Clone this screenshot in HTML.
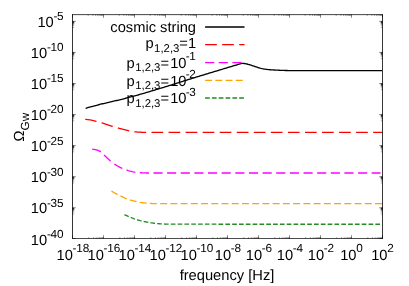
<!DOCTYPE html>
<html>
<head>
<meta charset="utf-8">
<title>Omega_GW vs frequency</title>
<style>
html,body{margin:0;padding:0;background:#ffffff;}
body{width:409px;height:286px;overflow:hidden;font-family:"Liberation Sans",sans-serif;}
svg{display:block;will-change:transform;opacity:0.999;text-rendering:geometricPrecision;}
</style>
</head>
<body>
<svg width="409" height="286" viewBox="0 0 409 286">
<rect x="0" y="0" width="409" height="286" fill="#ffffff"/>
<path d="M85.60,108.30 L86.60,108.01 L87.61,107.73 L88.61,107.45 L89.61,107.17 L90.62,106.89 L91.62,106.61 L92.62,106.34 L93.62,106.07 L94.63,105.80 L95.63,105.53 L96.63,105.27 L97.64,105.01 L98.64,104.75 L99.64,104.49 L100.65,104.24 L101.65,103.99 L102.65,103.75 L103.65,103.51 L104.66,103.27 L105.66,103.03 L106.66,102.80 L107.67,102.57 L108.67,102.34 L109.67,102.12 L110.68,101.89 L111.68,101.66 L112.68,101.43 L113.69,101.20 L114.69,100.97 L115.69,100.74 L116.69,100.50 L117.70,100.26 L118.70,100.02 L119.70,99.77 L120.71,99.52 L121.71,99.27 L122.71,99.02 L123.72,98.76 L124.72,98.51 L125.72,98.25 L126.72,97.99 L127.73,97.73 L128.73,97.46 L129.73,97.20 L130.74,96.93 L131.74,96.66 L132.74,96.39 L133.75,96.12 L134.75,95.85 L135.75,95.58 L136.76,95.30 L137.76,95.02 L138.76,94.75 L139.76,94.47 L140.77,94.18 L141.77,93.90 L142.77,93.61 L143.78,93.32 L144.78,93.03 L145.78,92.74 L146.79,92.44 L147.79,92.15 L148.79,91.85 L149.79,91.55 L150.80,91.24 L151.80,90.94 L152.80,90.64 L153.81,90.33 L154.81,90.03 L155.81,89.72 L156.82,89.42 L157.82,89.11 L158.82,88.81 L159.82,88.50 L160.83,88.20 L161.83,87.89 L162.83,87.58 L163.84,87.27 L164.84,86.97 L165.84,86.65 L166.85,86.34 L167.85,86.03 L168.85,85.72 L169.86,85.40 L170.86,85.09 L171.86,84.78 L172.86,84.46 L173.87,84.14 L174.87,83.83 L175.87,83.51 L176.88,83.20 L177.88,82.88 L178.88,82.56 L179.89,82.25 L180.89,81.93 L181.89,81.61 L182.89,81.29 L183.90,80.98 L184.90,80.66 L185.90,80.35 L186.91,80.03 L187.91,79.72 L188.91,79.40 L189.92,79.09 L190.92,78.77 L191.92,78.46 L192.93,78.15 L193.93,77.84 L194.93,77.53 L195.93,77.22 L196.94,76.91 L197.94,76.60 L198.94,76.30 L199.95,75.99 L200.95,75.68 L201.95,75.38 L202.96,75.07 L203.96,74.76 L204.96,74.46 L205.96,74.15 L206.97,73.85 L207.97,73.55 L208.97,73.24 L209.98,72.94 L210.98,72.63 L211.98,72.33 L212.99,72.03 L213.99,71.72 L214.99,71.42 L216.00,71.12 L217.00,70.82 L218.00,70.51 L219.00,70.21 L220.01,69.91 L221.01,69.61 L222.01,69.30 L223.02,69.00 L224.02,68.70 L225.02,68.40 L226.03,68.10 L227.03,67.79 L228.03,67.49 L229.03,67.19 L230.04,66.89 L231.04,66.59 L232.04,66.29 L233.05,65.99 L234.05,65.68 L235.05,65.38 L236.06,65.09 L237.06,64.79 L238.06,64.48 L239.07,64.15 L240.07,63.83 L241.07,63.52 L242.07,63.42 L243.08,63.40 L244.08,63.48 L245.08,63.61 L246.09,63.78 L247.09,64.00 L248.09,64.26 L249.10,64.57 L250.10,64.90 L251.10,65.23 L252.10,65.55 L253.11,65.88 L254.11,66.21 L255.11,66.54 L256.12,66.87 L257.12,67.20 L258.12,67.52 L259.13,67.82 L260.13,68.12 L261.13,68.39 L262.14,68.63 L263.14,68.83 L264.14,69.02 L265.14,69.18 L266.15,69.33 L267.15,69.46 L268.15,69.59 L269.16,69.69 L270.16,69.77 L271.16,69.84 L272.17,69.90 L273.17,69.96 L274.17,70.02 L275.17,70.07 L276.18,70.12 L277.18,70.17 L278.18,70.22 L279.19,70.27 L280.19,70.32 L281.19,70.36 L282.20,70.40 L283.20,70.43 L284.20,70.45 L285.21,70.48 L286.21,70.50 L287.21,70.52 L288.21,70.53 L289.22,70.55 L290.22,70.57 L291.22,70.58 L292.23,70.60 L293.23,70.61 L294.23,70.62 L295.24,70.63 L296.24,70.64 L297.24,70.64 L298.24,70.65 L299.25,70.65 L300.25,70.65 L301.25,70.65 L302.26,70.66 L303.26,70.66 L304.26,70.66 L305.27,70.66 L306.27,70.66 L307.27,70.67 L308.27,70.67 L309.28,70.67 L310.28,70.67 L311.28,70.67 L312.29,70.67 L313.29,70.68 L314.29,70.68 L315.30,70.68 L316.30,70.68 L317.30,70.68 L318.31,70.68 L319.31,70.68 L320.31,70.69 L321.31,70.69 L322.32,70.69 L323.32,70.69 L324.32,70.69 L325.33,70.69 L326.33,70.69 L327.33,70.69 L328.34,70.69 L329.34,70.70 L330.34,70.70 L331.34,70.70 L332.35,70.70 L333.35,70.70 L334.35,70.70 L335.36,70.70 L336.36,70.70 L337.36,70.70 L338.37,70.70 L339.37,70.70 L340.37,70.71 L341.38,70.71 L342.38,70.71 L343.38,70.71 L344.38,70.71 L345.39,70.71 L346.39,70.71 L347.39,70.71 L348.40,70.71 L349.40,70.71 L350.40,70.71 L351.41,70.71 L352.41,70.71 L353.41,70.71 L354.41,70.71 L355.42,70.71 L356.42,70.71 L357.42,70.72 L358.43,70.72 L359.43,70.72 L360.43,70.72 L361.44,70.72 L362.44,70.72 L363.44,70.72 L364.45,70.72 L365.45,70.72 L366.45,70.72 L367.45,70.72 L368.46,70.72 L369.46,70.72 L370.46,70.72 L371.47,70.72 L372.47,70.72 L373.47,70.72 L374.48,70.72 L375.48,70.72 L376.48,70.72 L377.48,70.72 L378.49,70.72 L379.49,70.72 L380.49,70.72 L381.50,70.72 L382.50,70.72" fill="none" stroke="#000" stroke-width="1.30" stroke-linejoin="round"/>
<path d="M85.30,119.40 L86.30,119.47 L87.30,119.56 L88.30,119.68 L89.30,119.80 L90.30,119.94 L91.30,120.12 L92.30,120.32 L93.31,120.55 L94.31,120.80 L95.31,121.05 L96.31,121.30 L97.31,121.55 L98.31,121.82 L99.31,122.09 L100.31,122.38 L101.31,122.67 L102.31,122.99 L103.31,123.32 L104.31,123.67 L105.31,124.02 L106.31,124.37 L107.31,124.71 L108.32,125.05 L109.32,125.39 L110.32,125.73 L111.32,126.06 L112.32,126.38 L113.32,126.67 L114.32,126.94 L115.32,127.21 L116.32,127.47 L117.32,127.74 L118.32,128.02 L119.32,128.31 L120.32,128.60 L121.32,128.89 L122.32,129.18 L123.33,129.45 L124.33,129.72 L125.33,129.97 L126.33,130.22 L127.33,130.46 L128.33,130.68 L129.33,130.89 L130.33,131.09 L131.33,131.28 L132.33,131.46 L133.33,131.61 L134.33,131.74 L135.33,131.85 L136.33,131.95 L137.34,132.04 L138.34,132.11 L139.34,132.17 L140.34,132.21 L141.34,132.25 L142.34,132.28 L143.34,132.31 L144.34,132.33 L145.34,132.34 L146.34,132.35 L147.34,132.35 L148.34,132.35 L149.34,132.35 L150.34,132.35 L151.34,132.35 L152.35,132.35 L153.35,132.35 L154.35,132.35 L155.35,132.35 L156.35,132.35 L157.35,132.35 L158.35,132.35 L159.35,132.35 L160.35,132.35 L161.35,132.35 L162.35,132.35 L163.35,132.35 L164.35,132.35 L165.35,132.35 L166.35,132.35 L167.36,132.35 L168.36,132.35 L169.36,132.35 L170.36,132.35 L171.36,132.35 L172.36,132.35 L173.36,132.35 L174.36,132.35 L175.36,132.35 L176.36,132.35 L177.36,132.35 L178.36,132.35 L179.36,132.35 L180.36,132.35 L181.36,132.35 L182.37,132.35 L183.37,132.35 L184.37,132.35 L185.37,132.35 L186.37,132.35 L187.37,132.35 L188.37,132.35 L189.37,132.35 L190.37,132.35 L191.37,132.35 L192.37,132.35 L193.37,132.35 L194.37,132.35 L195.37,132.35 L196.37,132.35 L197.38,132.35 L198.38,132.35 L199.38,132.35 L200.38,132.35 L201.38,132.35 L202.38,132.35 L203.38,132.35 L204.38,132.35 L205.38,132.35 L206.38,132.35 L207.38,132.35 L208.38,132.35 L209.38,132.35 L210.38,132.35 L211.38,132.35 L212.39,132.35 L213.39,132.35 L214.39,132.35 L215.39,132.35 L216.39,132.35 L217.39,132.35 L218.39,132.35 L219.39,132.35 L220.39,132.35 L221.39,132.35 L222.39,132.35 L223.39,132.35 L224.39,132.35 L225.39,132.35 L226.39,132.35 L227.40,132.35 L228.40,132.35 L229.40,132.35 L230.40,132.35 L231.40,132.35 L232.40,132.35 L233.40,132.35 L234.40,132.35 L235.40,132.35 L236.40,132.35 L237.40,132.35 L238.40,132.35 L239.40,132.35 L240.40,132.35 L241.41,132.35 L242.41,132.35 L243.41,132.35 L244.41,132.35 L245.41,132.35 L246.41,132.35 L247.41,132.35 L248.41,132.35 L249.41,132.35 L250.41,132.35 L251.41,132.35 L252.41,132.35 L253.41,132.35 L254.41,132.35 L255.41,132.35 L256.42,132.35 L257.42,132.35 L258.42,132.35 L259.42,132.35 L260.42,132.35 L261.42,132.35 L262.42,132.35 L263.42,132.35 L264.42,132.35 L265.42,132.35 L266.42,132.35 L267.42,132.35 L268.42,132.35 L269.42,132.35 L270.42,132.35 L271.43,132.35 L272.43,132.35 L273.43,132.35 L274.43,132.35 L275.43,132.35 L276.43,132.35 L277.43,132.35 L278.43,132.35 L279.43,132.35 L280.43,132.35 L281.43,132.35 L282.43,132.35 L283.43,132.35 L284.43,132.35 L285.43,132.35 L286.44,132.35 L287.44,132.35 L288.44,132.35 L289.44,132.35 L290.44,132.35 L291.44,132.35 L292.44,132.35 L293.44,132.35 L294.44,132.35 L295.44,132.35 L296.44,132.35 L297.44,132.35 L298.44,132.35 L299.44,132.35 L300.44,132.35 L301.45,132.35 L302.45,132.35 L303.45,132.35 L304.45,132.35 L305.45,132.35 L306.45,132.35 L307.45,132.35 L308.45,132.35 L309.45,132.35 L310.45,132.35 L311.45,132.35 L312.45,132.35 L313.45,132.35 L314.45,132.35 L315.45,132.35 L316.46,132.35 L317.46,132.35 L318.46,132.35 L319.46,132.35 L320.46,132.35 L321.46,132.35 L322.46,132.35 L323.46,132.35 L324.46,132.35 L325.46,132.35 L326.46,132.35 L327.46,132.35 L328.46,132.35 L329.46,132.35 L330.46,132.35 L331.47,132.35 L332.47,132.35 L333.47,132.35 L334.47,132.35 L335.47,132.35 L336.47,132.35 L337.47,132.35 L338.47,132.35 L339.47,132.35 L340.47,132.35 L341.47,132.35 L342.47,132.35 L343.47,132.35 L344.47,132.35 L345.48,132.35 L346.48,132.35 L347.48,132.35 L348.48,132.35 L349.48,132.35 L350.48,132.35 L351.48,132.35 L352.48,132.35 L353.48,132.35 L354.48,132.35 L355.48,132.35 L356.48,132.35 L357.48,132.35 L358.48,132.35 L359.48,132.35 L360.49,132.35 L361.49,132.35 L362.49,132.35 L363.49,132.35 L364.49,132.35 L365.49,132.35 L366.49,132.35 L367.49,132.35 L368.49,132.35 L369.49,132.35 L370.49,132.35 L371.49,132.35 L372.49,132.35 L373.49,132.35 L374.49,132.35 L375.50,132.35 L376.50,132.35 L377.50,132.35 L378.50,132.35 L379.50,132.35 L380.50,132.35 L381.50,132.35 L382.50,132.35" fill="none" stroke="#ff0000" stroke-width="1.30" stroke-dasharray="11.7,5.35" stroke-dashoffset="0.33" stroke-linejoin="round"/>
<path d="M92.10,149.20 L93.10,149.28 L94.10,149.42 L95.10,149.61 L96.11,149.82 L97.11,150.09 L98.11,150.44 L99.11,150.86 L100.11,151.38 L101.11,152.12 L102.11,153.05 L103.12,154.04 L104.12,155.00 L105.12,155.96 L106.12,156.96 L107.12,157.93 L108.12,158.88 L109.12,159.82 L110.12,160.72 L111.13,161.57 L112.13,162.36 L113.13,163.12 L114.13,163.82 L115.13,164.48 L116.13,165.11 L117.13,165.70 L118.14,166.28 L119.14,166.84 L120.14,167.38 L121.14,167.89 L122.14,168.35 L123.14,168.77 L124.14,169.16 L125.15,169.53 L126.15,169.88 L127.15,170.23 L128.15,170.58 L129.15,170.90 L130.15,171.19 L131.15,171.44 L132.16,171.68 L133.16,171.89 L134.16,172.06 L135.16,172.21 L136.16,172.34 L137.16,172.46 L138.16,172.57 L139.17,172.65 L140.17,172.71 L141.17,172.77 L142.17,172.82 L143.17,172.87 L144.17,172.91 L145.17,172.95 L146.18,172.98 L147.18,172.99 L148.18,173.00 L149.18,173.00 L150.18,173.00 L151.18,173.00 L152.18,173.00 L153.18,173.00 L154.19,173.00 L155.19,173.00 L156.19,173.00 L157.19,173.00 L158.19,173.00 L159.19,173.00 L160.19,173.00 L161.20,173.00 L162.20,173.00 L163.20,173.00 L164.20,173.00 L165.20,173.00 L166.20,173.00 L167.20,173.00 L168.21,173.00 L169.21,173.00 L170.21,173.00 L171.21,173.00 L172.21,173.00 L173.21,173.00 L174.21,173.00 L175.22,173.00 L176.22,173.00 L177.22,173.00 L178.22,173.00 L179.22,173.00 L180.22,173.00 L181.22,173.00 L182.22,173.00 L183.23,173.00 L184.23,173.00 L185.23,173.00 L186.23,173.00 L187.23,173.00 L188.23,173.00 L189.23,173.00 L190.24,173.00 L191.24,173.00 L192.24,173.00 L193.24,173.00 L194.24,173.00 L195.24,173.00 L196.24,173.00 L197.25,173.00 L198.25,173.00 L199.25,173.00 L200.25,173.00 L201.25,173.00 L202.25,173.00 L203.25,173.00 L204.26,173.00 L205.26,173.00 L206.26,173.00 L207.26,173.00 L208.26,173.00 L209.26,173.00 L210.26,173.00 L211.27,173.00 L212.27,173.00 L213.27,173.00 L214.27,173.00 L215.27,173.00 L216.27,173.00 L217.27,173.00 L218.27,173.00 L219.28,173.00 L220.28,173.00 L221.28,173.00 L222.28,173.00 L223.28,173.00 L224.28,173.00 L225.28,173.00 L226.29,173.00 L227.29,173.00 L228.29,173.00 L229.29,173.00 L230.29,173.00 L231.29,173.00 L232.29,173.00 L233.30,173.00 L234.30,173.00 L235.30,173.00 L236.30,173.00 L237.30,173.00 L238.30,173.00 L239.30,173.00 L240.31,173.00 L241.31,173.00 L242.31,173.00 L243.31,173.00 L244.31,173.00 L245.31,173.00 L246.31,173.00 L247.32,173.00 L248.32,173.00 L249.32,173.00 L250.32,173.00 L251.32,173.00 L252.32,173.00 L253.32,173.00 L254.32,173.00 L255.33,173.00 L256.33,173.00 L257.33,173.00 L258.33,173.00 L259.33,173.00 L260.33,173.00 L261.33,173.00 L262.34,173.00 L263.34,173.00 L264.34,173.00 L265.34,173.00 L266.34,173.00 L267.34,173.00 L268.34,173.00 L269.35,173.00 L270.35,173.00 L271.35,173.00 L272.35,173.00 L273.35,173.00 L274.35,173.00 L275.35,173.00 L276.36,173.00 L277.36,173.00 L278.36,173.00 L279.36,173.00 L280.36,173.00 L281.36,173.00 L282.36,173.00 L283.37,173.00 L284.37,173.00 L285.37,173.00 L286.37,173.00 L287.37,173.00 L288.37,173.00 L289.37,173.00 L290.38,173.00 L291.38,173.00 L292.38,173.00 L293.38,173.00 L294.38,173.00 L295.38,173.00 L296.38,173.00 L297.38,173.00 L298.39,173.00 L299.39,173.00 L300.39,173.00 L301.39,173.00 L302.39,173.00 L303.39,173.00 L304.39,173.00 L305.40,173.00 L306.40,173.00 L307.40,173.00 L308.40,173.00 L309.40,173.00 L310.40,173.00 L311.40,173.00 L312.41,173.00 L313.41,173.00 L314.41,173.00 L315.41,173.00 L316.41,173.00 L317.41,173.00 L318.41,173.00 L319.42,173.00 L320.42,173.00 L321.42,173.00 L322.42,173.00 L323.42,173.00 L324.42,173.00 L325.42,173.00 L326.42,173.00 L327.43,173.00 L328.43,173.00 L329.43,173.00 L330.43,173.00 L331.43,173.00 L332.43,173.00 L333.43,173.00 L334.44,173.00 L335.44,173.00 L336.44,173.00 L337.44,173.00 L338.44,173.00 L339.44,173.00 L340.44,173.00 L341.45,173.00 L342.45,173.00 L343.45,173.00 L344.45,173.00 L345.45,173.00 L346.45,173.00 L347.45,173.00 L348.46,173.00 L349.46,173.00 L350.46,173.00 L351.46,173.00 L352.46,173.00 L353.46,173.00 L354.46,173.00 L355.47,173.00 L356.47,173.00 L357.47,173.00 L358.47,173.00 L359.47,173.00 L360.47,173.00 L361.47,173.00 L362.48,173.00 L363.48,173.00 L364.48,173.00 L365.48,173.00 L366.48,173.00 L367.48,173.00 L368.48,173.00 L369.48,173.00 L370.49,173.00 L371.49,173.00 L372.49,173.00 L373.49,173.00 L374.49,173.00 L375.49,173.00 L376.49,173.00 L377.50,173.00 L378.50,173.00 L379.50,173.00 L380.50,173.00" fill="none" stroke="#ff00ff" stroke-width="1.30" stroke-dasharray="9.15,4.49" stroke-dashoffset="13.55" stroke-linejoin="round"/>
<path d="M111.40,191.00 L112.40,191.61 L113.40,192.20 L114.40,192.77 L115.40,193.33 L116.40,193.87 L117.40,194.41 L118.40,194.92 L119.40,195.41 L120.40,195.90 L121.40,196.39 L122.40,196.89 L123.40,197.39 L124.40,197.87 L125.41,198.32 L126.41,198.75 L127.41,199.12 L128.41,199.47 L129.41,199.79 L130.41,200.09 L131.41,200.39 L132.41,200.68 L133.41,200.96 L134.41,201.23 L135.41,201.48 L136.41,201.72 L137.41,201.93 L138.41,202.12 L139.41,202.29 L140.41,202.45 L141.41,202.59 L142.41,202.72 L143.41,202.85 L144.41,202.97 L145.41,203.08 L146.41,203.17 L147.41,203.26 L148.41,203.34 L149.41,203.41 L150.41,203.46 L151.41,203.50 L152.42,203.55 L153.42,203.58 L154.42,203.61 L155.42,203.64 L156.42,203.65 L157.42,203.65 L158.42,203.65 L159.42,203.65 L160.42,203.65 L161.42,203.65 L162.42,203.65 L163.42,203.65 L164.42,203.65 L165.42,203.66 L166.42,203.66 L167.42,203.66 L168.42,203.66 L169.42,203.66 L170.42,203.66 L171.42,203.66 L172.42,203.66 L173.42,203.66 L174.42,203.66 L175.42,203.66 L176.42,203.66 L177.42,203.66 L178.42,203.66 L179.43,203.66 L180.43,203.66 L181.43,203.66 L182.43,203.66 L183.43,203.67 L184.43,203.67 L185.43,203.67 L186.43,203.67 L187.43,203.67 L188.43,203.67 L189.43,203.67 L190.43,203.67 L191.43,203.67 L192.43,203.67 L193.43,203.67 L194.43,203.67 L195.43,203.67 L196.43,203.67 L197.43,203.67 L198.43,203.67 L199.43,203.67 L200.43,203.67 L201.43,203.67 L202.43,203.67 L203.43,203.67 L204.43,203.67 L205.43,203.68 L206.44,203.68 L207.44,203.68 L208.44,203.68 L209.44,203.68 L210.44,203.68 L211.44,203.68 L212.44,203.68 L213.44,203.68 L214.44,203.68 L215.44,203.68 L216.44,203.68 L217.44,203.68 L218.44,203.68 L219.44,203.68 L220.44,203.68 L221.44,203.68 L222.44,203.68 L223.44,203.68 L224.44,203.68 L225.44,203.68 L226.44,203.68 L227.44,203.68 L228.44,203.68 L229.44,203.68 L230.44,203.68 L231.44,203.68 L232.44,203.68 L233.45,203.68 L234.45,203.68 L235.45,203.69 L236.45,203.69 L237.45,203.69 L238.45,203.69 L239.45,203.69 L240.45,203.69 L241.45,203.69 L242.45,203.69 L243.45,203.69 L244.45,203.69 L245.45,203.69 L246.45,203.69 L247.45,203.69 L248.45,203.69 L249.45,203.69 L250.45,203.69 L251.45,203.69 L252.45,203.69 L253.45,203.69 L254.45,203.69 L255.45,203.69 L256.45,203.69 L257.45,203.69 L258.45,203.69 L259.45,203.69 L260.45,203.69 L261.46,203.69 L262.46,203.69 L263.46,203.69 L264.46,203.69 L265.46,203.69 L266.46,203.69 L267.46,203.69 L268.46,203.69 L269.46,203.69 L270.46,203.69 L271.46,203.69 L272.46,203.69 L273.46,203.69 L274.46,203.69 L275.46,203.69 L276.46,203.69 L277.46,203.69 L278.46,203.69 L279.46,203.69 L280.46,203.69 L281.46,203.69 L282.46,203.69 L283.46,203.70 L284.46,203.70 L285.46,203.70 L286.46,203.70 L287.46,203.70 L288.47,203.70 L289.47,203.70 L290.47,203.70 L291.47,203.70 L292.47,203.70 L293.47,203.70 L294.47,203.70 L295.47,203.70 L296.47,203.70 L297.47,203.70 L298.47,203.70 L299.47,203.70 L300.47,203.70 L301.47,203.70 L302.47,203.70 L303.47,203.70 L304.47,203.70 L305.47,203.70 L306.47,203.70 L307.47,203.70 L308.47,203.70 L309.47,203.70 L310.47,203.70 L311.47,203.70 L312.47,203.70 L313.47,203.70 L314.47,203.70 L315.48,203.70 L316.48,203.70 L317.48,203.70 L318.48,203.70 L319.48,203.70 L320.48,203.70 L321.48,203.70 L322.48,203.70 L323.48,203.70 L324.48,203.70 L325.48,203.70 L326.48,203.70 L327.48,203.70 L328.48,203.70 L329.48,203.70 L330.48,203.70 L331.48,203.70 L332.48,203.70 L333.48,203.70 L334.48,203.70 L335.48,203.70 L336.48,203.70 L337.48,203.70 L338.48,203.70 L339.48,203.70 L340.48,203.70 L341.48,203.70 L342.49,203.70 L343.49,203.70 L344.49,203.70 L345.49,203.70 L346.49,203.70 L347.49,203.70 L348.49,203.70 L349.49,203.70 L350.49,203.70 L351.49,203.70 L352.49,203.70 L353.49,203.70 L354.49,203.70 L355.49,203.70 L356.49,203.70 L357.49,203.70 L358.49,203.70 L359.49,203.70 L360.49,203.70 L361.49,203.70 L362.49,203.70 L363.49,203.70 L364.49,203.70 L365.49,203.70 L366.49,203.70 L367.49,203.70 L368.49,203.70 L369.50,203.70 L370.50,203.70 L371.50,203.70 L372.50,203.70 L373.50,203.70 L374.50,203.70 L375.50,203.70 L376.50,203.70 L377.50,203.70 L378.50,203.70 L379.50,203.70 L380.50,203.70 L381.50,203.70 L382.50,203.70" fill="none" stroke="#ffa500" stroke-width="1.30" stroke-dasharray="6.95,3.28" stroke-dashoffset="10.16" stroke-linejoin="round"/>
<path d="M124.20,214.60 L125.20,215.03 L126.20,215.45 L127.20,215.88 L128.20,216.30 L129.20,216.73 L130.20,217.15 L131.20,217.57 L132.20,218.01 L133.20,218.44 L134.20,218.85 L135.20,219.20 L136.20,219.49 L137.21,219.75 L138.21,220.03 L139.21,220.34 L140.21,220.65 L141.21,220.93 L142.21,221.18 L143.21,221.37 L144.21,221.55 L145.21,221.74 L146.21,221.94 L147.21,222.14 L148.21,222.34 L149.21,222.52 L150.21,222.68 L151.21,222.83 L152.21,222.97 L153.21,223.12 L154.21,223.26 L155.21,223.40 L156.21,223.51 L157.21,223.61 L158.21,223.69 L159.21,223.76 L160.21,223.83 L161.21,223.88 L162.21,223.94 L163.22,223.98 L164.22,224.02 L165.22,224.06 L166.22,224.09 L167.22,224.12 L168.22,224.14 L169.22,224.17 L170.22,224.19 L171.22,224.20 L172.22,224.20 L173.22,224.20 L174.22,224.20 L175.22,224.20 L176.22,224.20 L177.22,224.20 L178.22,224.20 L179.22,224.20 L180.22,224.21 L181.22,224.21 L182.22,224.21 L183.22,224.21 L184.22,224.21 L185.22,224.21 L186.22,224.21 L187.22,224.21 L188.23,224.21 L189.23,224.21 L190.23,224.21 L191.23,224.21 L192.23,224.21 L193.23,224.21 L194.23,224.21 L195.23,224.21 L196.23,224.21 L197.23,224.22 L198.23,224.22 L199.23,224.22 L200.23,224.22 L201.23,224.22 L202.23,224.22 L203.23,224.22 L204.23,224.22 L205.23,224.22 L206.23,224.22 L207.23,224.22 L208.23,224.22 L209.23,224.22 L210.23,224.22 L211.23,224.22 L212.23,224.22 L213.23,224.22 L214.24,224.22 L215.24,224.22 L216.24,224.22 L217.24,224.22 L218.24,224.23 L219.24,224.23 L220.24,224.23 L221.24,224.23 L222.24,224.23 L223.24,224.23 L224.24,224.23 L225.24,224.23 L226.24,224.23 L227.24,224.23 L228.24,224.23 L229.24,224.23 L230.24,224.23 L231.24,224.23 L232.24,224.23 L233.24,224.23 L234.24,224.23 L235.24,224.23 L236.24,224.23 L237.24,224.23 L238.24,224.23 L239.24,224.23 L240.25,224.23 L241.25,224.23 L242.25,224.23 L243.25,224.23 L244.25,224.23 L245.25,224.24 L246.25,224.24 L247.25,224.24 L248.25,224.24 L249.25,224.24 L250.25,224.24 L251.25,224.24 L252.25,224.24 L253.25,224.24 L254.25,224.24 L255.25,224.24 L256.25,224.24 L257.25,224.24 L258.25,224.24 L259.25,224.24 L260.25,224.24 L261.25,224.24 L262.25,224.24 L263.25,224.24 L264.25,224.24 L265.26,224.24 L266.26,224.24 L267.26,224.24 L268.26,224.24 L269.26,224.24 L270.26,224.24 L271.26,224.24 L272.26,224.24 L273.26,224.24 L274.26,224.24 L275.26,224.24 L276.26,224.24 L277.26,224.24 L278.26,224.24 L279.26,224.24 L280.26,224.24 L281.26,224.24 L282.26,224.24 L283.26,224.24 L284.26,224.24 L285.26,224.24 L286.26,224.24 L287.26,224.24 L288.26,224.24 L289.26,224.24 L290.26,224.25 L291.27,224.25 L292.27,224.25 L293.27,224.25 L294.27,224.25 L295.27,224.25 L296.27,224.25 L297.27,224.25 L298.27,224.25 L299.27,224.25 L300.27,224.25 L301.27,224.25 L302.27,224.25 L303.27,224.25 L304.27,224.25 L305.27,224.25 L306.27,224.25 L307.27,224.25 L308.27,224.25 L309.27,224.25 L310.27,224.25 L311.27,224.25 L312.27,224.25 L313.27,224.25 L314.27,224.25 L315.27,224.25 L316.28,224.25 L317.28,224.25 L318.28,224.25 L319.28,224.25 L320.28,224.25 L321.28,224.25 L322.28,224.25 L323.28,224.25 L324.28,224.25 L325.28,224.25 L326.28,224.25 L327.28,224.25 L328.28,224.25 L329.28,224.25 L330.28,224.25 L331.28,224.25 L332.28,224.25 L333.28,224.25 L334.28,224.25 L335.28,224.25 L336.28,224.25 L337.28,224.25 L338.28,224.25 L339.28,224.25 L340.28,224.25 L341.28,224.25 L342.29,224.25 L343.29,224.25 L344.29,224.25 L345.29,224.25 L346.29,224.25 L347.29,224.25 L348.29,224.25 L349.29,224.25 L350.29,224.25 L351.29,224.25 L352.29,224.25 L353.29,224.25 L354.29,224.25 L355.29,224.25 L356.29,224.25 L357.29,224.25 L358.29,224.25 L359.29,224.25 L360.29,224.25 L361.29,224.25 L362.29,224.25 L363.29,224.25 L364.29,224.25 L365.29,224.25 L366.29,224.25 L367.29,224.25 L368.30,224.25 L369.30,224.25 L370.30,224.25 L371.30,224.25 L372.30,224.25 L373.30,224.25 L374.30,224.25 L375.30,224.25 L376.30,224.25 L377.30,224.25 L378.30,224.25 L379.30,224.25 L380.30,224.25" fill="none" stroke="#228b22" stroke-width="1.30" stroke-dasharray="4.68,2.14" stroke-dashoffset="6.56" stroke-linejoin="round"/>
<path d="M205.10,27.00 L244.50,27.00" fill="none" stroke="#000000" stroke-width="1.30"/>
<path d="M205.10,44.70 L244.50,44.70" fill="none" stroke="#ff0000" stroke-width="1.30" stroke-dasharray="11.7,5.35"/>
<path d="M205.10,62.55 L244.50,62.55" fill="none" stroke="#ff00ff" stroke-width="1.30" stroke-dasharray="9.15,4.49"/>
<path d="M205.10,80.40 L244.50,80.40" fill="none" stroke="#ffa500" stroke-width="1.30" stroke-dasharray="6.95,3.28"/>
<path d="M205.10,98.00 L244.50,98.00" fill="none" stroke="#228b22" stroke-width="1.30" stroke-dasharray="4.68,2.14"/>
<text x="196.00" y="31.80" text-anchor="end" font-size="14.70" font-family="Liberation Sans, sans-serif" fill="#000">cosmic string</text>
<text x="196.10" y="47.85" text-anchor="end" font-size="14.70" font-family="Liberation Sans, sans-serif" fill="#000">p<tspan dx="0.5" dy="3.90" font-size="11.35">1,2,3</tspan><tspan dy="-3.90" font-size="14.70">=1</tspan></text>
<text x="195.80" y="67.50" text-anchor="end" font-size="14.70" font-family="Liberation Sans, sans-serif" fill="#000">p<tspan dx="0.5" dy="3.90" font-size="11.35">1,2,3</tspan><tspan dy="-3.90" font-size="14.70">=<tspan dx="1.2">10</tspan><tspan dx="-0.80" dy="-7.30" font-size="11.76">-</tspan><tspan dx="-0.40" font-size="11.76">1</tspan></tspan></text>
<text x="195.80" y="85.55" text-anchor="end" font-size="14.70" font-family="Liberation Sans, sans-serif" fill="#000">p<tspan dx="0.5" dy="3.90" font-size="11.35">1,2,3</tspan><tspan dy="-3.90" font-size="14.70">=<tspan dx="1.2">10</tspan><tspan dx="-0.80" dy="-7.30" font-size="11.76">-</tspan><tspan dx="-0.40" font-size="11.76">2</tspan></tspan></text>
<text x="195.80" y="103.40" text-anchor="end" font-size="14.70" font-family="Liberation Sans, sans-serif" fill="#000">p<tspan dx="0.5" dy="3.90" font-size="11.35">1,2,3</tspan><tspan dy="-3.90" font-size="14.70">=<tspan dx="1.2">10</tspan><tspan dx="-0.80" dy="-7.30" font-size="11.76">-</tspan><tspan dx="-0.40" font-size="11.76">3</tspan></tspan></text>
<path d="M72.0,14.62 H383.0" fill="none" stroke="#444444" stroke-width="1"/>
<path d="M72.0,238.50 H383.0" fill="none" stroke="#4c4c4c" stroke-width="1"/>
<path d="M72.5,14.0 V239.0 M382.5,14.0 V239.0" fill="none" stroke="#363636" stroke-width="1"/>
<path d="M72.50,238.50 v-3.30 M72.50,14.50 v3.30 M103.50,238.50 v-3.30 M103.50,14.50 v3.30 M134.50,238.50 v-3.30 M134.50,14.50 v3.30 M165.50,238.50 v-3.30 M165.50,14.50 v3.30 M196.50,238.50 v-3.30 M196.50,14.50 v3.30 M227.50,238.50 v-3.30 M227.50,14.50 v3.30 M258.50,238.50 v-3.30 M258.50,14.50 v3.30 M289.50,238.50 v-3.30 M289.50,14.50 v3.30 M320.50,238.50 v-3.30 M320.50,14.50 v3.30 M351.50,238.50 v-3.30 M351.50,14.50 v3.30 M382.50,238.50 v-3.30 M382.50,14.50 v3.30 M72.50,238.50 h3.30 M382.50,238.50 h-3.30 M72.50,207.78 h3.30 M382.50,207.78 h-3.30 M72.50,176.71 h3.30 M382.50,176.71 h-3.30 M72.50,145.64 h3.30 M382.50,145.64 h-3.30 M72.50,114.56 h3.30 M382.50,114.56 h-3.30 M72.50,83.49 h3.30 M382.50,83.49 h-3.30 M72.50,52.42 h3.30 M382.50,52.42 h-3.30 M72.50,21.35 h3.30 M382.50,21.35 h-3.30" fill="none" stroke="#000" stroke-width="0.5" stroke-opacity="0.9"/>
<path d="M88.80,238.50 v-1.40 M88.20,14.50 v1.40 M93.47,238.50 v-1.40 M92.87,14.50 v1.40 M96.20,238.50 v-1.40 M95.60,14.50 v1.40 M98.13,238.50 v-1.40 M97.53,14.50 v1.40 M99.63,238.50 v-1.40 M99.03,14.50 v1.40 M100.86,238.50 v-1.40 M100.26,14.50 v1.40 M101.90,238.50 v-1.40 M101.30,14.50 v1.40 M102.80,238.50 v-1.40 M102.20,14.50 v1.40 M103.59,238.50 v-1.40 M102.99,14.50 v1.40 M119.80,238.50 v-1.40 M119.20,14.50 v1.40 M124.47,238.50 v-1.40 M123.87,14.50 v1.40 M127.20,238.50 v-1.40 M126.60,14.50 v1.40 M129.13,238.50 v-1.40 M128.53,14.50 v1.40 M130.63,238.50 v-1.40 M130.03,14.50 v1.40 M131.86,238.50 v-1.40 M131.26,14.50 v1.40 M132.90,238.50 v-1.40 M132.30,14.50 v1.40 M133.80,238.50 v-1.40 M133.20,14.50 v1.40 M134.59,238.50 v-1.40 M133.99,14.50 v1.40 M150.80,238.50 v-1.40 M150.20,14.50 v1.40 M155.47,238.50 v-1.40 M154.87,14.50 v1.40 M158.20,238.50 v-1.40 M157.60,14.50 v1.40 M160.13,238.50 v-1.40 M159.53,14.50 v1.40 M161.63,238.50 v-1.40 M161.03,14.50 v1.40 M162.86,238.50 v-1.40 M162.26,14.50 v1.40 M163.90,238.50 v-1.40 M163.30,14.50 v1.40 M164.80,238.50 v-1.40 M164.20,14.50 v1.40 M165.59,238.50 v-1.40 M164.99,14.50 v1.40 M181.80,238.50 v-1.40 M181.20,14.50 v1.40 M186.47,238.50 v-1.40 M185.87,14.50 v1.40 M189.20,238.50 v-1.40 M188.60,14.50 v1.40 M191.13,238.50 v-1.40 M190.53,14.50 v1.40 M192.63,238.50 v-1.40 M192.03,14.50 v1.40 M193.86,238.50 v-1.40 M193.26,14.50 v1.40 M194.90,238.50 v-1.40 M194.30,14.50 v1.40 M195.80,238.50 v-1.40 M195.20,14.50 v1.40 M196.59,238.50 v-1.40 M195.99,14.50 v1.40 M212.80,238.50 v-1.40 M212.20,14.50 v1.40 M217.47,238.50 v-1.40 M216.87,14.50 v1.40 M220.20,238.50 v-1.40 M219.60,14.50 v1.40 M222.13,238.50 v-1.40 M221.53,14.50 v1.40 M223.63,238.50 v-1.40 M223.03,14.50 v1.40 M224.86,238.50 v-1.40 M224.26,14.50 v1.40 M225.90,238.50 v-1.40 M225.30,14.50 v1.40 M226.80,238.50 v-1.40 M226.20,14.50 v1.40 M227.59,238.50 v-1.40 M226.99,14.50 v1.40 M243.80,238.50 v-1.40 M243.20,14.50 v1.40 M248.47,238.50 v-1.40 M247.87,14.50 v1.40 M251.20,238.50 v-1.40 M250.60,14.50 v1.40 M253.13,238.50 v-1.40 M252.53,14.50 v1.40 M254.63,238.50 v-1.40 M254.03,14.50 v1.40 M255.86,238.50 v-1.40 M255.26,14.50 v1.40 M256.90,238.50 v-1.40 M256.30,14.50 v1.40 M257.80,238.50 v-1.40 M257.20,14.50 v1.40 M258.59,238.50 v-1.40 M257.99,14.50 v1.40 M274.80,238.50 v-1.40 M274.20,14.50 v1.40 M279.47,238.50 v-1.40 M278.87,14.50 v1.40 M282.20,238.50 v-1.40 M281.60,14.50 v1.40 M284.13,238.50 v-1.40 M283.53,14.50 v1.40 M285.63,238.50 v-1.40 M285.03,14.50 v1.40 M286.86,238.50 v-1.40 M286.26,14.50 v1.40 M287.90,238.50 v-1.40 M287.30,14.50 v1.40 M288.80,238.50 v-1.40 M288.20,14.50 v1.40 M289.59,238.50 v-1.40 M288.99,14.50 v1.40 M305.80,238.50 v-1.40 M305.20,14.50 v1.40 M310.47,238.50 v-1.40 M309.87,14.50 v1.40 M313.20,238.50 v-1.40 M312.60,14.50 v1.40 M315.13,238.50 v-1.40 M314.53,14.50 v1.40 M316.63,238.50 v-1.40 M316.03,14.50 v1.40 M317.86,238.50 v-1.40 M317.26,14.50 v1.40 M318.90,238.50 v-1.40 M318.30,14.50 v1.40 M319.80,238.50 v-1.40 M319.20,14.50 v1.40 M320.59,238.50 v-1.40 M319.99,14.50 v1.40 M336.80,238.50 v-1.40 M336.20,14.50 v1.40 M341.47,238.50 v-1.40 M340.87,14.50 v1.40 M344.20,238.50 v-1.40 M343.60,14.50 v1.40 M346.13,238.50 v-1.40 M345.53,14.50 v1.40 M347.63,238.50 v-1.40 M347.03,14.50 v1.40 M348.86,238.50 v-1.40 M348.26,14.50 v1.40 M349.90,238.50 v-1.40 M349.30,14.50 v1.40 M350.80,238.50 v-1.40 M350.20,14.50 v1.40 M351.59,238.50 v-1.40 M350.99,14.50 v1.40 M367.80,238.50 v-1.40 M367.20,14.50 v1.40 M372.47,238.50 v-1.40 M371.87,14.50 v1.40 M375.20,238.50 v-1.40 M374.60,14.50 v1.40 M377.13,238.50 v-1.40 M376.53,14.50 v1.40 M378.63,238.50 v-1.40 M378.03,14.50 v1.40 M379.86,238.50 v-1.40 M379.26,14.50 v1.40 M380.90,238.50 v-1.40 M380.30,14.50 v1.40 M381.80,238.50 v-1.40 M381.20,14.50 v1.40 M382.59,238.50 v-1.40 M381.99,14.50 v1.40" fill="none" stroke="#000" stroke-width="0.36" stroke-opacity="1"/>
<path d="M72.50,209.65 h1.70 M382.50,209.65 h-1.70 M72.50,209.16 h1.70 M382.50,209.16 h-1.70 M72.50,208.74 h1.70 M382.50,208.74 h-1.70 M72.50,208.38 h1.70 M382.50,208.38 h-1.70 M72.50,208.06 h1.70 M382.50,208.06 h-1.70 M72.50,178.58 h1.70 M382.50,178.58 h-1.70 M72.50,178.09 h1.70 M382.50,178.09 h-1.70 M72.50,177.67 h1.70 M382.50,177.67 h-1.70 M72.50,177.31 h1.70 M382.50,177.31 h-1.70 M72.50,176.99 h1.70 M382.50,176.99 h-1.70 M72.50,147.51 h1.70 M382.50,147.51 h-1.70 M72.50,147.01 h1.70 M382.50,147.01 h-1.70 M72.50,146.60 h1.70 M382.50,146.60 h-1.70 M72.50,146.24 h1.70 M382.50,146.24 h-1.70 M72.50,145.92 h1.70 M382.50,145.92 h-1.70 M72.50,116.43 h1.70 M382.50,116.43 h-1.70 M72.50,115.94 h1.70 M382.50,115.94 h-1.70 M72.50,115.53 h1.70 M382.50,115.53 h-1.70 M72.50,115.17 h1.70 M382.50,115.17 h-1.70 M72.50,114.85 h1.70 M382.50,114.85 h-1.70 M72.50,85.36 h1.70 M382.50,85.36 h-1.70 M72.50,84.87 h1.70 M382.50,84.87 h-1.70 M72.50,84.46 h1.70 M382.50,84.46 h-1.70 M72.50,84.10 h1.70 M382.50,84.10 h-1.70 M72.50,83.78 h1.70 M382.50,83.78 h-1.70 M72.50,54.29 h1.70 M382.50,54.29 h-1.70 M72.50,53.80 h1.70 M382.50,53.80 h-1.70 M72.50,53.38 h1.70 M382.50,53.38 h-1.70 M72.50,53.02 h1.70 M382.50,53.02 h-1.70 M72.50,52.71 h1.70 M382.50,52.71 h-1.70 M72.50,23.22 h1.70 M382.50,23.22 h-1.70 M72.50,22.73 h1.70 M382.50,22.73 h-1.70 M72.50,22.31 h1.70 M382.50,22.31 h-1.70 M72.50,21.95 h1.70 M382.50,21.95 h-1.70 M72.50,21.63 h1.70 M382.50,21.63 h-1.70" fill="none" stroke="#000" stroke-width="0.5" stroke-opacity="1"/>
<path d="M72.50,213.99 h1.70 M382.50,213.99 h-1.70 M72.50,212.12 h1.70 M382.50,212.12 h-1.70 M72.50,211.03 h1.70 M382.50,211.03 h-1.70 M72.50,210.25 h1.70 M382.50,210.25 h-1.70 M72.50,182.92 h1.70 M382.50,182.92 h-1.70 M72.50,181.05 h1.70 M382.50,181.05 h-1.70 M72.50,179.96 h1.70 M382.50,179.96 h-1.70 M72.50,179.18 h1.70 M382.50,179.18 h-1.70 M72.50,151.85 h1.70 M382.50,151.85 h-1.70 M72.50,149.98 h1.70 M382.50,149.98 h-1.70 M72.50,148.89 h1.70 M382.50,148.89 h-1.70 M72.50,148.11 h1.70 M382.50,148.11 h-1.70 M72.50,120.78 h1.70 M382.50,120.78 h-1.70 M72.50,118.91 h1.70 M382.50,118.91 h-1.70 M72.50,117.81 h1.70 M382.50,117.81 h-1.70 M72.50,117.04 h1.70 M382.50,117.04 h-1.70 M72.50,89.71 h1.70 M382.50,89.71 h-1.70 M72.50,87.84 h1.70 M382.50,87.84 h-1.70 M72.50,86.74 h1.70 M382.50,86.74 h-1.70 M72.50,85.97 h1.70 M382.50,85.97 h-1.70 M72.50,58.64 h1.70 M382.50,58.64 h-1.70 M72.50,56.77 h1.70 M382.50,56.77 h-1.70 M72.50,55.67 h1.70 M382.50,55.67 h-1.70 M72.50,54.89 h1.70 M382.50,54.89 h-1.70 M72.50,27.56 h1.70 M382.50,27.56 h-1.70 M72.50,25.69 h1.70 M382.50,25.69 h-1.70 M72.50,24.60 h1.70 M382.50,24.60 h-1.70 M72.50,23.82 h1.70 M382.50,23.82 h-1.70" fill="none" stroke="#000" stroke-width="0.36" stroke-opacity="0.9"/>
<text x="63.60" y="244.55" text-anchor="end" font-size="14.70" font-family="Liberation Sans, sans-serif" fill="#000">10<tspan dx="-0.30" dy="-6.80" font-size="11.76">-</tspan><tspan dx="-0.30" font-size="11.76">40</tspan></text>
<text x="63.60" y="213.48" text-anchor="end" font-size="14.70" font-family="Liberation Sans, sans-serif" fill="#000">10<tspan dx="-0.30" dy="-6.80" font-size="11.76">-</tspan><tspan dx="-0.30" font-size="11.76">35</tspan></text>
<text x="63.60" y="182.41" text-anchor="end" font-size="14.70" font-family="Liberation Sans, sans-serif" fill="#000">10<tspan dx="-0.30" dy="-6.80" font-size="11.76">-</tspan><tspan dx="-0.30" font-size="11.76">30</tspan></text>
<text x="63.60" y="151.34" text-anchor="end" font-size="14.70" font-family="Liberation Sans, sans-serif" fill="#000">10<tspan dx="-0.30" dy="-6.80" font-size="11.76">-</tspan><tspan dx="-0.30" font-size="11.76">25</tspan></text>
<text x="63.60" y="120.26" text-anchor="end" font-size="14.70" font-family="Liberation Sans, sans-serif" fill="#000">10<tspan dx="-0.30" dy="-6.80" font-size="11.76">-</tspan><tspan dx="-0.30" font-size="11.76">20</tspan></text>
<text x="63.60" y="89.19" text-anchor="end" font-size="14.70" font-family="Liberation Sans, sans-serif" fill="#000">10<tspan dx="-0.30" dy="-6.80" font-size="11.76">-</tspan><tspan dx="-0.30" font-size="11.76">15</tspan></text>
<text x="63.60" y="58.12" text-anchor="end" font-size="14.70" font-family="Liberation Sans, sans-serif" fill="#000">10<tspan dx="-0.30" dy="-6.80" font-size="11.76">-</tspan><tspan dx="-0.30" font-size="11.76">10</tspan></text>
<text x="63.60" y="27.05" text-anchor="end" font-size="14.70" font-family="Liberation Sans, sans-serif" fill="#000">10<tspan dx="-0.30" dy="-6.80" font-size="11.76">-</tspan><tspan dx="-0.30" font-size="11.76">5</tspan></text>
<text x="72.90" y="259.60" text-anchor="middle" font-size="14.70" font-family="Liberation Sans, sans-serif" fill="#000">10<tspan dx="-0.30" dy="-7.30" font-size="11.76">-</tspan><tspan dx="-0.30" font-size="11.76">18</tspan></text>
<text x="103.90" y="259.60" text-anchor="middle" font-size="14.70" font-family="Liberation Sans, sans-serif" fill="#000">10<tspan dx="-0.30" dy="-7.30" font-size="11.76">-</tspan><tspan dx="-0.30" font-size="11.76">16</tspan></text>
<text x="134.90" y="259.60" text-anchor="middle" font-size="14.70" font-family="Liberation Sans, sans-serif" fill="#000">10<tspan dx="-0.30" dy="-7.30" font-size="11.76">-</tspan><tspan dx="-0.30" font-size="11.76">14</tspan></text>
<text x="165.90" y="259.60" text-anchor="middle" font-size="14.70" font-family="Liberation Sans, sans-serif" fill="#000">10<tspan dx="-0.30" dy="-7.30" font-size="11.76">-</tspan><tspan dx="-0.30" font-size="11.76">12</tspan></text>
<text x="196.90" y="259.60" text-anchor="middle" font-size="14.70" font-family="Liberation Sans, sans-serif" fill="#000">10<tspan dx="-0.30" dy="-7.30" font-size="11.76">-</tspan><tspan dx="-0.30" font-size="11.76">10</tspan></text>
<text x="227.90" y="259.60" text-anchor="middle" font-size="14.70" font-family="Liberation Sans, sans-serif" fill="#000">10<tspan dx="-0.30" dy="-7.30" font-size="11.76">-</tspan><tspan dx="-0.30" font-size="11.76">8</tspan></text>
<text x="258.90" y="259.60" text-anchor="middle" font-size="14.70" font-family="Liberation Sans, sans-serif" fill="#000">10<tspan dx="-0.30" dy="-7.30" font-size="11.76">-</tspan><tspan dx="-0.30" font-size="11.76">6</tspan></text>
<text x="289.90" y="259.60" text-anchor="middle" font-size="14.70" font-family="Liberation Sans, sans-serif" fill="#000">10<tspan dx="-0.30" dy="-7.30" font-size="11.76">-</tspan><tspan dx="-0.30" font-size="11.76">4</tspan></text>
<text x="320.90" y="259.60" text-anchor="middle" font-size="14.70" font-family="Liberation Sans, sans-serif" fill="#000">10<tspan dx="-0.30" dy="-7.30" font-size="11.76">-</tspan><tspan dx="-0.30" font-size="11.76">2</tspan></text>
<text x="351.50" y="259.60" text-anchor="middle" font-size="14.70" font-family="Liberation Sans, sans-serif" fill="#000">10<tspan dx="-0.30" dy="-7.30" font-size="11.76">0</tspan></text>
<text x="382.50" y="259.60" text-anchor="middle" font-size="14.70" font-family="Liberation Sans, sans-serif" fill="#000">10<tspan dx="-0.30" dy="-7.30" font-size="11.76">2</tspan></text>
<text x="227.00" y="280.20" text-anchor="middle" font-size="14.70" font-family="Liberation Sans, sans-serif" fill="#000">frequency [Hz]</text>
<text transform="translate(23.90,127.10) rotate(-90)" text-anchor="middle" font-size="14.70" font-family="Liberation Sans, sans-serif" fill="#000">&#937;<tspan dy="4.7" font-size="11.76">Gw</tspan></text>
</svg>
</body>
</html>
